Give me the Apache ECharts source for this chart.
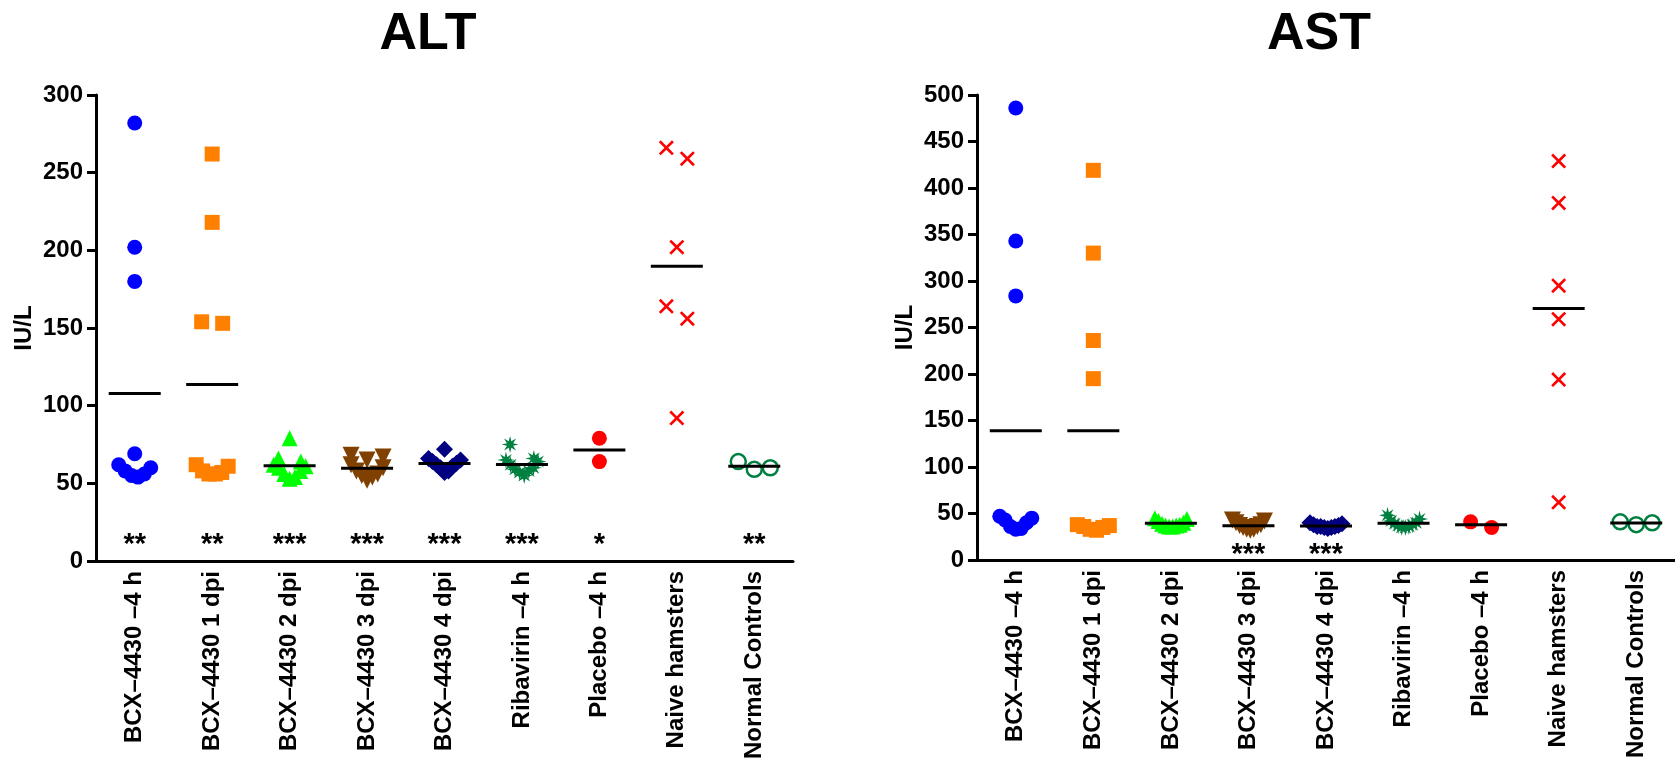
<!DOCTYPE html>
<html>
<head>
<meta charset="utf-8">
<script src="https://cdn.jsdelivr.net/npm/echarts@6/dist/echarts.min.js"></script>
<style>
html,body{margin:0;padding:0;background:#fff;}
#chart{width:1675px;height:770px;}
</style>
</head>
<body>
<div id="chart"></div>
<script>
// ---------- DATA ----------
const categories = ['BCX\u20134430 \u20134 h', 'BCX\u20134430 1 dpi', 'BCX\u20134430 2 dpi', 'BCX\u20134430 3 dpi',
  'BCX\u20134430 4 dpi', 'Ribavirin \u20134 h', 'Placebo \u20134 h', 'Naive hamsters', 'Normal Controls'];

// ALT (IU/L)
const altBcxM4h   = [282, 202, 180, 69, 62, 60, 58, 56, 55, 54];
const altBcx1dpi  = [262, 218, 154, 153, 62, 61, 58, 57, 56, 56];
const altBcx2dpi  = [79, 66, 64, 62, 61, 60, 58, 56, 54, 53];
const altBcx3dpi  = [68, 67, 65, 62, 60, 58, 56, 55, 54, 52];
const altBcx4dpi  = [72, 66, 65, 64, 63, 62, 61, 60, 58, 57];
const altRibaM4h  = [75, 66, 65, 64, 62, 60, 59, 58, 57, 55];
const altPlacebo  = [79, 64];
const altNaive    = [266, 259, 202, 164, 156, 92];
const altNormal   = [64, 60, 59];
const altStars    = ['**', '**', '***', '***', '***', '***', '*', '', '**'];
const altTicks    = {min: 0, max: 300, interval: 50};

// AST (IU/L)
const astBcxM4h   = [486, 343, 284, 47, 45, 43, 40, 36, 34, 33];
const astBcx1dpi  = [419, 330, 236, 195, 38, 37, 36, 35, 33, 32];
const astBcx2dpi  = [45, 44, 42, 40, 39, 38, 37, 37, 36, 36];
const astBcx3dpi  = [43, 42, 40, 38, 37, 36, 35, 33, 32, 33];
const astBcx4dpi  = [40, 39, 38, 37, 36, 36, 35, 35, 34, 36];
const astRibaM4h  = [48, 44, 42, 40, 39, 38, 37, 36, 35, 35];
const astPlacebo  = [35, 41];
const astNaive    = [429, 384, 295, 259, 194, 62];
const astNormal   = [41, 38, 40];
const astStars    = ['', '', '', '***', '***', '', '', '', ''];
const astTicks    = {min: 0, max: 500, interval: 50};

const altGroups = [altBcxM4h, altBcx1dpi, altBcx2dpi, altBcx3dpi, altBcx4dpi, altRibaM4h, altPlacebo, altNaive, altNormal];
const astGroups = [astBcxM4h, astBcx1dpi, astBcx2dpi, astBcx3dpi, astBcx4dpi, astRibaM4h, astPlacebo, astNaive, astNormal];

// ---------- STYLE ----------
const FONT = '"Liberation Sans", Arial, sans-serif';
function starPath() {
  const pts = [];
  for (let i = 0; i < 16; i++) {
    const a = i * Math.PI / 8 - Math.PI / 2;
    const r = (i % 2) ? 20 : 50;
    pts.push((50 + r * Math.cos(a)).toFixed(2) + ',' + (50 + r * Math.sin(a)).toFixed(2));
  }
  return 'path://M' + pts.join(' L') + ' Z';
}
const xPath = 'path://M0,2.5 L2.5,0 L10,7.5 L17.5,0 L20,2.5 L12.5,10 L20,17.5 L17.5,20 L10,12.5 L2.5,20 L0,17.5 L7.5,10 Z';
const groupStyles = [
  {symbol: 'circle', size: 15, color: '#0000FF'},
  {symbol: 'rect', size: 15, color: '#FF8000'},
  {symbol: 'triangle', size: 16, color: '#00FF00'},
  {symbol: 'triangle', size: 17, color: '#804000', rotate: 180},
  {symbol: 'diamond', size: 17, color: '#000080'},
  {symbol: starPath(), size: 17, color: '#008040'},
  {symbol: 'circle', size: 15, color: '#FF0000'},
  {symbol: xPath, size: 15, color: '#FF0000'},
  {symbol: 'circle', size: 15, color: 'rgba(0,0,0,0)', border: '#008040', bw: 2.5}
];

const grids = [
  {left: 96, top: 95, width: 697, height: 466},
  {left: 977, top: 95, width: 698, height: 465}
];

function mean(a) { return a.reduce((s, v) => s + v, 0) / a.length; }

// column-scatter spreading (layout only)
function spread(values, ppu, size, maxHalf) {
  const idx = values.map((v, i) => i).sort((a, b) => values[a] - values[b]);
  const rows = [];
  let cur = null;
  idx.forEach(i => {
    const y = values[i] * ppu;
    if (!cur || y - cur.y0 > size) { cur = {y0: y, items: []}; rows.push(cur); }
    cur.items.push(i);
  });
  const off = values.map(() => 0);
  rows.forEach(r => {
    const m = r.items.length;
    if (m === 1) return;
    const gap = Math.min(size * 1.4, 2 * maxHalf / (m - 1));
    const slots = [];
    for (let k = 0; k < m; k++) slots.push((k - (m - 1) / 2) * gap);
    slots.sort((a, b) => Math.abs(a) - Math.abs(b) || b - a);
    r.items.forEach((i, k) => { off[i] = slots[k]; });
  });
  return off;
}

function buildSeries(groups, stars, starVal, axisIdx, offsets) {
  const s = [];
  groups.forEach((vals, g) => {
    const st = groupStyles[g];
    s.push({
      type: 'scatter', xAxisIndex: axisIdx, yAxisIndex: axisIdx,
      symbol: st.symbol, symbolSize: st.size, symbolRotate: st.rotate || 0,
      itemStyle: {color: st.color, borderColor: st.border || null, borderWidth: st.bw || 0, opacity: 1},
      z: 3, silent: true,
      data: vals.map((v, i) => ({value: [g, v], symbolOffset: [offsets ? offsets[g][i] : 0, 0]}))
    });
  });
  s.push({
    type: 'scatter', xAxisIndex: axisIdx, yAxisIndex: axisIdx,
    symbol: 'rect', symbolSize: [52, 3], itemStyle: {color: '#000', opacity: 1}, z: 5, silent: true,
    data: groups.map((vals, g) => [g, mean(vals)])
  });
  s.push({
    type: 'scatter', xAxisIndex: axisIdx, yAxisIndex: axisIdx,
    symbolSize: 1, itemStyle: {color: 'rgba(0,0,0,0)', opacity: 1}, z: 6, silent: true,
    label: {show: true, position: 'inside', formatter: p => p.value[2], opacity: 1,
      fontFamily: FONT, fontWeight: 'bold', fontSize: 29, color: '#000'},
    data: stars.map((t, g) => [g, starVal, t])
  });
  return s;
}

function axisPair(i, ticks) {
  return {
    x: {
      type: 'category', gridIndex: i, data: categories, boundaryGap: true,
      axisLine: {lineStyle: {color: '#000', width: 3}},
      axisTick: {alignWithLabel: true, length: 8, lineStyle: {color: '#000', width: 3}},
      axisLabel: {rotate: 90, margin: 10, interval: 0, fontFamily: FONT, fontWeight: 'bold', fontSize: 24, color: '#000'},
      splitLine: {show: false}
    },
    y: {
      type: 'value', gridIndex: i, min: ticks.min, max: ticks.max, interval: ticks.interval,
      name: 'IU/L', nameLocation: 'middle', nameGap: 60,
      nameTextStyle: {fontFamily: FONT, fontWeight: 'bold', fontSize: 24, color: '#000'},
      axisLine: {show: true, lineStyle: {color: '#000', width: 3}},
      axisTick: {show: true, length: 9, lineStyle: {color: '#000', width: 3}},
      axisLabel: {margin: 13, fontFamily: FONT, fontWeight: 'bold', fontSize: 24, color: '#000'},
      splitLine: {show: false}
    }
  };
}

function buildOption(altOff, astOff) {
  const a0 = axisPair(0, altTicks), a1 = axisPair(1, astTicks);
  return {
    animation: false,
    backgroundColor: '#fff',
    title: [
      {text: 'ALT', left: 423, top: 4, textAlign: 'center',
        textStyle: {fontFamily: FONT, fontWeight: 'bold', fontSize: 52, color: '#000'}},
      {text: 'AST', left: 1314, top: 4, textAlign: 'center',
        textStyle: {fontFamily: FONT, fontWeight: 'bold', fontSize: 52, color: '#000'}}
    ],
    grid: grids,
    xAxis: [a0.x, a1.x],
    yAxis: [a0.y, a1.y],
    series: buildSeries(altGroups, altStars, 10, 0, altOff)
      .concat(buildSeries(astGroups, astStars, 5.5, 1, astOff))
  };
}

const chart = echarts.init(document.getElementById('chart'), null, {renderer: 'canvas'});
chart.setOption(buildOption(null, null));
function ppuOf(axisIdx, ticks) {
  const p0 = chart.convertToPixel({yAxisIndex: axisIdx}, ticks.min);
  const p1 = chart.convertToPixel({yAxisIndex: axisIdx}, ticks.max);
  return Math.abs(p0 - p1) / (ticks.max - ticks.min);
}
const altPpu = ppuOf(0, altTicks), astPpu = ppuOf(1, astTicks);
const altOff = altGroups.map((v, g) => spread(v, altPpu, groupStyles[g].size, 16));
const astOff = astGroups.map((v, g) => spread(v, astPpu, groupStyles[g].size, 16));
chart.setOption(buildOption(altOff, astOff), true);
</script>
</body>
</html>
